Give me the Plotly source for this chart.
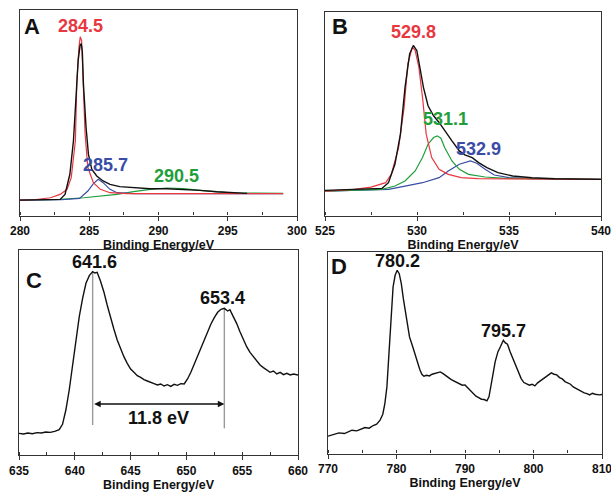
import plotly.graph_objects as go

# ---------------- Panel A : C 1s ----------------
a_black_x = [280.0, 281.0, 282.0, 282.9, 283.25, 283.6, 283.86, 284.05, 284.2, 284.34, 284.42, 284.5,
             284.58, 284.77, 284.94, 285.18, 285.54, 286.0, 286.5, 287.2, 288.2, 289.4, 290.6, 291.8,
             293.0, 294.2, 295.4, 296.4]
a_black_y = [46, 46, 47, 48, 63, 123, 223, 343, 463, 508, 513, 490,
             393, 263, 183, 138, 118, 103, 93, 86, 83, 80, 80, 78,
             75, 71, 68, 66]
a_red_x = [280.0, 281.0, 282.2, 282.9, 283.4, 283.7, 284.0, 284.1, 284.25, 284.35, 284.45, 284.55,
           284.7, 284.9, 285.3, 285.8, 286.5, 287.7, 290.0, 299.0]
a_red_y = [46, 47, 53, 63, 78, 113, 223, 393, 500, 533, 522, 420,
           243, 143, 98, 78, 68, 65, 65, 65]
a_blue_x = [280.0, 283.0, 284.3, 284.9, 285.3, 285.65, 286.0, 286.5, 287.0, 288.2, 299.0]
a_blue_y = [46, 47, 51, 73, 95, 108, 98, 78, 68, 65, 65]
a_green_x = [280.0, 282.9, 284.6, 285.8, 287.0, 288.2, 289.4, 290.6, 291.8, 293.0, 294.2, 295.4, 299.0]
a_green_y = [46, 48, 53, 58, 63, 71, 78, 82, 80, 75, 70, 67, 66]

# ---------------- Panel B : O 1s ----------------
b_black_x = [525.0, 526.6, 528.1, 528.45, 528.8, 529.1, 529.35, 529.6, 529.8, 529.99, 530.17, 530.35,
             530.6, 530.9, 531.2, 531.5, 531.9, 532.3, 532.6, 533.0, 533.35, 533.8, 534.4, 535.2,
             536.25, 537.5, 540.0]
b_black_y = [75, 78, 81, 98, 153, 243, 383, 483, 508, 493, 443, 383,
             328, 298, 278, 253, 223, 193, 181, 173, 158, 143, 128, 118,
             113, 110, 108]
b_red_x = [525.0, 526.6, 527.5, 528.3, 528.6, 529.0, 529.3, 529.5, 529.75, 529.9, 530.1, 530.3,
           530.5, 530.8, 531.2, 531.7, 532.4, 533.3, 540.0]
b_red_y = [73, 78, 85, 98, 123, 203, 323, 453, 503, 493, 443, 353,
           243, 173, 138, 123, 113, 110, 108]
b_green_x = [525.0, 528.1, 528.8, 529.35, 529.9, 530.3, 530.6, 530.9, 531.1, 531.3, 531.5, 531.9,
             532.3, 532.8, 533.7, 534.8, 540.0]
b_green_y = [73, 78, 88, 103, 133, 173, 213, 233, 238, 231, 203, 163,
             138, 123, 115, 111, 108]
b_blue_x = [525.0, 528.45, 529.35, 530.3, 531.2, 531.7, 532.3, 532.7, 532.9, 533.25, 533.7, 534.2,
            535.0, 536.25, 540.0]
b_blue_y = [73, 78, 88, 98, 113, 133, 153, 161, 163, 156, 138, 121,
            113, 110, 108]

# ---------------- Panel C : Mn 2p ----------------
c_x = [635.0, 635.4, 635.8, 636.2, 636.6, 637.0, 637.4, 637.8, 638.2, 638.6, 638.9, 639.2, 639.5, 639.8,
       640.1, 640.4, 640.7, 641.0, 641.3, 641.6, 641.8, 642.0, 642.3, 642.6, 642.9, 643.2, 643.5, 643.8,
       644.1, 644.4, 644.7, 645.0, 645.3, 645.6, 645.9, 646.2, 646.5, 646.8, 647.1, 647.4, 647.7, 648.0,
       648.3, 648.6, 648.9, 649.2, 649.5, 649.8, 650.1, 650.4, 650.7, 651.0, 651.3, 651.6, 651.9, 652.2,
       652.5, 652.8, 653.1, 653.4, 653.7, 653.9, 654.2, 654.5, 654.8, 655.1, 655.4, 655.7, 656.0, 656.3,
       656.6, 656.9, 657.2, 657.5, 657.8, 658.1, 658.4, 658.7, 659.0, 659.3, 659.6, 660.0]
c_y = [65, 63, 66, 64, 67, 66, 69, 68, 71, 76, 92, 135, 195, 265,
       350, 415, 470, 515, 538, 550, 546, 548, 522, 490, 450, 410, 378, 345,
       318, 295, 275, 258, 248, 238, 233, 226, 222, 217, 214, 210, 213, 207,
       211, 206, 212, 209, 214, 213, 228, 248, 272, 295, 320, 345, 370, 393,
       412, 428, 437, 440, 432, 436, 415, 395, 370, 345, 325, 308, 295, 281,
       270, 262, 255, 248, 252, 243, 248, 241, 245, 240, 243, 240]
c_peaks = [641.6, 653.4]
c_peak_tops = [550, 440]
c_peak_bottoms = [90, 80]
c_split_label = "11.8 eV"

# ---------------- Panel D : Cu 2p ----------------
d_x = [770.0, 770.8, 771.6, 772.4, 773.0, 773.5, 774.2, 774.8, 775.4, 776.0, 776.6, 777.1, 777.6, 778.0,
       778.3, 778.6, 778.9, 779.2, 779.5, 779.8, 780.1, 780.4, 780.7, 781.0, 781.3, 781.6, 781.9, 782.3,
       782.6, 783.0, 783.4, 783.7, 784.0, 784.4, 784.8, 785.2, 785.6, 786.0, 786.4, 786.8, 787.2, 787.6,
       788.0, 788.4, 788.8, 789.2, 789.6, 790.0, 790.4, 790.8, 791.2, 791.6, 792.0, 792.4, 792.8, 793.2,
       793.5, 793.8, 794.1, 794.4, 794.8, 795.2, 795.6, 795.9, 796.2, 796.6, 797.0, 797.4, 797.8, 798.2,
       798.6, 799.0, 799.4, 799.8, 800.2, 800.6, 801.0, 801.4, 801.8, 802.2, 802.6, 803.0, 803.4, 803.8,
       804.2, 804.6, 805.0, 805.4, 805.8, 806.2, 806.6, 807.0, 807.4, 807.8, 808.2, 808.6, 809.0, 809.6,
       810.0]
d_y = [52, 57, 62, 60, 66, 70, 68, 74, 78, 76, 84, 88, 100, 118,
       150, 200, 300, 430, 500, 535, 550, 540, 510, 465, 425, 395, 350, 325,
       305, 275, 252, 238, 232, 235, 233, 238, 240, 243, 245, 240, 233, 228,
       222, 218, 212, 208, 205, 206, 197, 188, 180, 172, 168, 163, 162, 158,
       170, 200, 240, 275, 305, 322, 340, 332, 328, 305, 285, 260, 242, 225,
       213, 210, 205, 208, 203, 212, 218, 222, 230, 236, 242, 238, 236, 228,
       224, 216, 212, 208, 200, 195, 192, 186, 182, 180, 176, 181, 178, 176,
       177]

# ---------------- labels ----------------
panel_letters = ["A", "B", "C", "D"]
a_labels = [("284.5", 284.35, 565, "red"), ("285.7", 286.2, 151, "blue"), ("290.5", 291.3, 118, "green")]
b_labels = [("529.8", 529.8, 548, "red"), ("531.1", 531.53, 288, "green"), ("532.9", 533.34, 198, "blue")]
c_labels = [("641.6", 641.8, 580, "black"), ("653.4", 653.2, 470, "black")]
d_labels = [("780.2", 780.1, 578, "black"), ("795.7", 795.6, 368, "black")]
x_title = "Binding Energy/eV"

COL = {"red": "#e8373f", "green": "#1f9e3a", "blue": "#3a4ca6", "black": "#111111"}
FONT = "Liberation Sans, Arial, sans-serif"

W, H = 611, 492
# panel boxes in pixels (left, right, top, bottom)
boxes = {
    "1": (20, 297, 10, 215.5),
    "2": (325, 601, 12, 215.5),
    "3": (19, 298, 250, 455),
    "4": (328, 602, 252, 453.5),
}
xranges = {"1": [280, 300], "2": [525, 540], "3": [635, 660], "4": [770, 810]}
yranges = {"1": [0, 613], "2": [0, 608], "3": [0, 615], "4": [0, 605]}
xdtick = {"1": 5, "2": 5, "3": 5, "4": 10}
letter_pos = {"1": (280.9, 565), "2": (525.8, 565), "3": (636.3, 525), "4": (771.6, 560)}

fig = go.Figure()

def line(x, y, color, ax, width=1.2):
    fig.add_trace(go.Scatter(x=x, y=y, mode="lines", line=dict(color=COL[color], width=width),
                             xaxis="x" + ("" if ax == "1" else ax), yaxis="y" + ("" if ax == "1" else ax),
                             showlegend=False, hoverinfo="skip"))

line(a_green_x, a_green_y, "green", "1")
line(a_blue_x, a_blue_y, "blue", "1")
line(a_red_x, a_red_y, "red", "1")
line(a_black_x, a_black_y, "black", "1", 1.4)

line(b_blue_x, b_blue_y, "blue", "2")
line(b_green_x, b_green_y, "green", "2")
line(b_red_x, b_red_y, "red", "2")
line(b_black_x, b_black_y, "black", "2", 1.4)

# gray marker lines for panel C
for px, top, bot in zip(c_peaks, c_peak_tops, c_peak_bottoms):
    fig.add_trace(go.Scatter(x=[px, px], y=[bot, top], mode="lines", line=dict(color="#9a9a9a", width=1.4),
                             xaxis="x3", yaxis="y3", showlegend=False, hoverinfo="skip"))
line(c_x, c_y, "black", "3", 1.4)
line(d_x, d_y, "black", "4", 1.4)

layout = dict(width=W, height=H, margin=dict(l=0, r=0, t=0, b=0, autoexpand=False),
              paper_bgcolor="white", plot_bgcolor="white", showlegend=False)

for k, (l, r, t, b) in boxes.items():
    xa = "xaxis" + ("" if k == "1" else k)
    ya = "yaxis" + ("" if k == "1" else k)
    anchor_x = "y" + ("" if k == "1" else k)
    anchor_y = "x" + ("" if k == "1" else k)
    layout[xa] = dict(domain=[l / W, r / W], range=xranges[k], anchor=anchor_x, automargin=False,
                      dtick=xdtick[k], tick0=xranges[k][0], ticks="outside", ticklen=4,
                      tickwidth=1.2, tickcolor="#333", ticklabeloverflow="allow",
                      minor=dict(dtick=xdtick[k] / 2, ticks="inside", ticklen=3, tickwidth=1.1, tickcolor="#333"),
                      showline=True, mirror=True, linecolor="#333", linewidth=1.3,
                      showgrid=False, zeroline=False,
                      tickfont=dict(family=FONT, size=12, color="#111", weight="bold"),
                      title=dict(text=x_title, standoff=1,
                                 font=dict(family=FONT, size=12.5, color="#111", weight="bold")))
    layout[ya] = dict(domain=[1 - b / H, 1 - t / H], range=yranges[k], anchor=anchor_y, automargin=False,
                      showticklabels=False, ticks="", showline=True, mirror=True,
                      linecolor="#333", linewidth=1.3, showgrid=False, zeroline=False)

fig.update_layout(**layout)

def label(text, x, y, color, ax, size=18):
    fig.add_annotation(x=x, y=y, text=text, showarrow=False,
                       xref="x" + ("" if ax == "1" else ax), yref="y" + ("" if ax == "1" else ax),
                       font=dict(family=FONT, size=size, color=COL[color], weight="bold"))

for k, letter in zip(["1", "2", "3", "4"], panel_letters):
    label(letter, letter_pos[k][0], letter_pos[k][1], "black", k, 22)
for lst, k in [(a_labels, "1"), (b_labels, "2"), (c_labels, "3"), (d_labels, "4")]:
    for text, x, y, c in lst:
        label(text, x, y, c, k)

# double-headed arrow for spin-orbit splitting
fig.add_annotation(x=c_peaks[1], y=153, ax=c_peaks[0], ay=153, xref="x3", yref="y3",
                   axref="x3", ayref="y3", text="", showarrow=True, arrowhead=2, startarrowhead=2,
                   arrowside="end+start", arrowwidth=1.3, arrowsize=1, startarrowsize=1, arrowcolor="#111")
label(c_split_label, (c_peaks[0] + c_peaks[1]) / 2, 110, "black", "3")

fig.write_html("out.html", config={"displayModeBar": False},
               post_script="document.body.style.margin='0';document.body.style.overflow='hidden';")
